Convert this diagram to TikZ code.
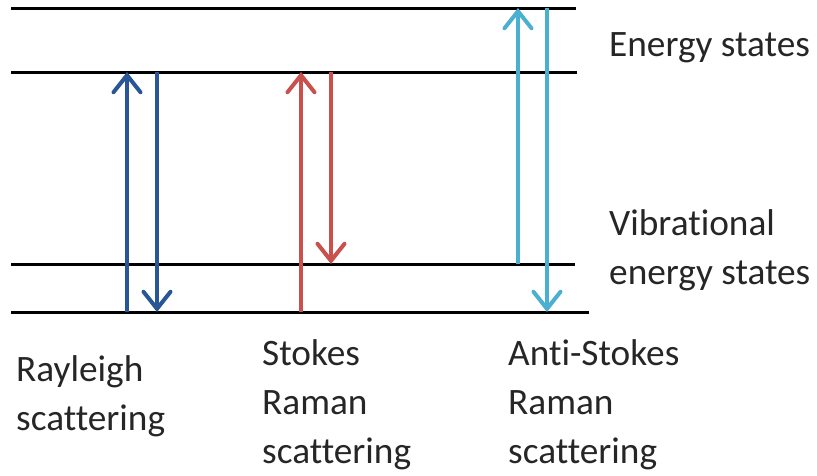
\documentclass[tikz,border=0pt]{standalone}
\usepackage{fontspec}
\setmainfont[Ligatures=NoCommon]{Carlito}
\usetikzlibrary{arrows.meta}
\definecolor{rayblue}{RGB}{40,86,150}
\definecolor{stokesred}{RGB}{200,80,77}
\definecolor{antiaqua}{RGB}{75,176,208}
\tikzset{
  level/.style={line width=3pt, black},
  trans/.style={line width=4pt, -{Straight Barb[length=17pt,width=27pt,line cap=round]}},
  lbl/.style={anchor=base west, inner sep=0pt, align=left,
    font=\fontsize{37.3}{49}\selectfont, text=black!85}
}
\begin{document}
\begin{tikzpicture}[x=1pt,y=-1pt]
\useasboundingbox (0,0) rectangle (817,475);
% energy levels
\coordinate (e2L) at (11,8);   \coordinate (e2R) at (576,8);
\coordinate (e1L) at (11,72);  \coordinate (e1R) at (577,72);
\coordinate (v1L) at (11,264); \coordinate (v1R) at (575,264);
\coordinate (v0L) at (11,312); \coordinate (v0R) at (589,312);
\draw[level] (e2L) -- (e2R);
\draw[level] (e1L) -- (e1R);
\draw[level] (v1L) -- (v1R);
\draw[level] (v0L) -- (v0R);
% Rayleigh
\coordinate (ra) at (127,312); \coordinate (rb) at (127,72);
\coordinate (rc) at (157,72);  \coordinate (rd) at (157,312);
\draw[trans, rayblue] (ra) -- (rb);
\draw[trans, rayblue] (rc) -- (rd);
% Stokes
\coordinate (sa) at (301,312); \coordinate (sb) at (301,72);
\coordinate (sc) at (331,72);  \coordinate (sd) at (331,264);
\draw[trans, stokesred] (sa) -- (sb);
\draw[trans, stokesred] (sc) -- (sd);
% Anti-Stokes
\coordinate (aa) at (518,264); \coordinate (ab) at (518,8);
\coordinate (ac) at (547,8);   \coordinate (ad) at (547,312);
\draw[trans, antiaqua] (aa) -- (ab);
\draw[trans, antiaqua] (ac) -- (ad);
% labels (base anchor sits on the last line)
\node[lbl] (les) at (609,56) {Energy states};
\node[lbl] (lvs) at (609,284) {Vibrational\\energy states};
\node[lbl] (lray) at (16,430) {Rayleigh\\scattering};
\node[lbl] (lsto) at (262,463) {Stokes\\Raman\\scattering};
\node[lbl] (lant) at (508,463) {Anti-Stokes\\Raman\\scattering};
\end{tikzpicture}
\end{document}
